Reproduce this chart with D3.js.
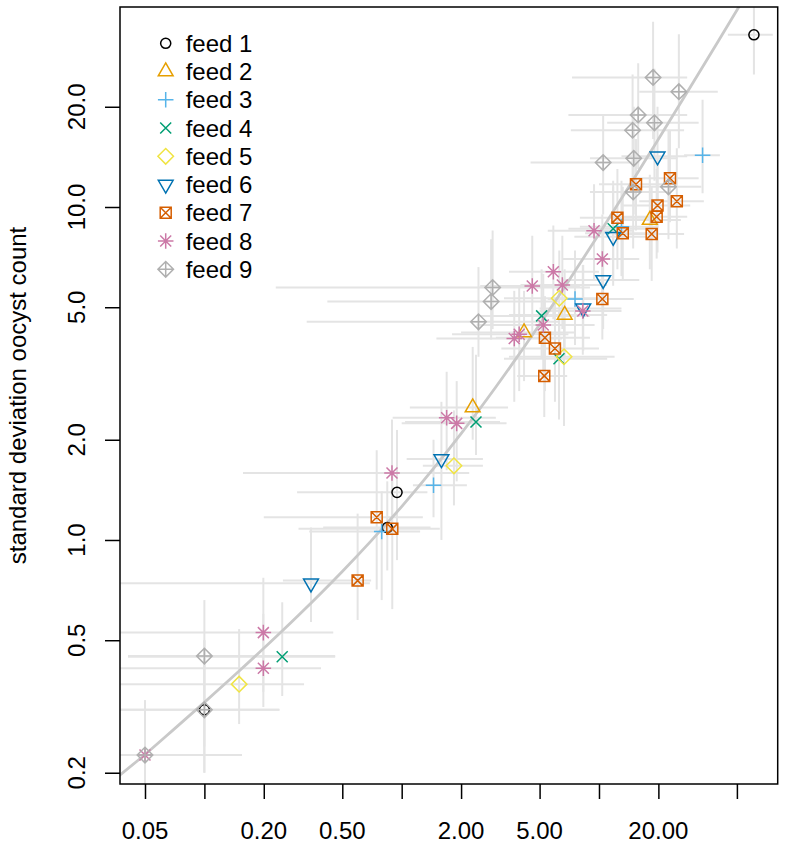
<!DOCTYPE html>
<html><head><meta charset="utf-8">
<script src="https://cdn.jsdelivr.net/npm/d3@7"></script>
<style>
body{margin:0;background:#fff}
svg{display:block}
text{font-family:"Liberation Sans",Arial,Helvetica,sans-serif;fill:#000}
</style>
</head><body>
<svg id="chart" width="785" height="845"></svg>
<script>
// ---------- data ----------
const feedNames = ["feed 1","feed 2","feed 3","feed 4","feed 5","feed 6","feed 7","feed 8","feed 9"];
const feedColors = ["#000000","#E69F00","#56B4E9","#009E73","#F0E442","#0072B2","#D55E00","#CC79A7","#B0B0B0"];
const feedPch = [1,2,3,4,5,6,7,8,9];

const pointFeed = [
 1,1,1,1,
 2,2,2,2,
 3,3,3,3,3,
 4,4,4,4,4,
 5,5,5,5,
 6,6,6,6,6,6,
 7,7,7,7,7,7,7,7,7,7,7,7,7,7,7,
 8,8,8,8,8,8,8,8,8,8,8,8,8,8,8,
 9,9,9,9,9,9,9,9,9,9,9,9,9,9,9];
// mean oocyst count
const meanCount = [
 61.0,0.947,0.845,0.10,
 2.29,4.17,6.70,18.1,
 33.5,1.45,0.792,7.56,13.0,
 0.248,2.38,5.12,6.27,11.8,
 0.150,1.84,6.29,6.65,
 0.347,1.59,8.32,10.5,11.8,19.8,
 0.598,0.747,0.896,5.32,5.98,5.28,10.4,12.4,13.2,15.4,18.5,19.6,19.8,22.9,24.8,
 0.05,0.199,0.199,0.893,1.69,1.90,3.72,3.94,5.22,4.59,5.87,6.52,8.28,10.4,9.44,
 0.05,0.10,0.10,2.45,2.84,2.89,10.5,15.0,14.8,15.8,19.1,18.8,25.4,14.9,22.5];
// standard deviation oocyst count
const sdCount = [
 32.9,1.39,1.09,0.309,
 2.50,4.20,4.74,9.14,
 14.3,1.46,1.06,5.29,8.73,
 0.446,2.26,4.71,3.50,8.6,
 0.369,1.67,5.32,3.55,
 0.741,1.75,4.96,6.04,8.14,14.2,
 0.755,1.17,1.08,4.05,3.76,3.11,5.29,9.29,8.34,11.7,8.30,9.35,10.1,12.2,10.4,
 0.226,0.527,0.412,1.59,2.33,2.24,4.03,4.15,4.42,5.79,6.39,5.83,4.87,6.98,8.49,
 0.226,0.448,0.309,4.52,5.20,5.73,13.6,14.0,17.0,18.9,17.9,24.5,22.2,11.1,11.5];
// interval on the mean
const meanLow = [
 45,0.295,0.40,0.037,
 1.10,2.0,3.5,12,
 27,1.14,0.34,5.5,8,
 0.041,1.04,2.5,3.3,7,
 0.037,1.28,3.3,3.5,
 0.037,1.06,5,6.5,7.5,13,
 0.25,0.20,0.30,3.0,3.2,3.85,7,8,8.5,10,12,13,13,15,16,
 0.03,0.037,0.037,0.157,0.9,1.0,1.5,1.8,2.4,2.5,3.5,4.0,5,6.5,5.5,
 0.03,0.041,0.037,0.33,0.42,0.23,4.5,9,7.2,7,11,7.3,16,9,14];
const meanHigh = [
 76,1.35,1.40,0.24,
 3.46,7.5,11,26,
 41,2.14,1.24,10.5,20,
 0.46,3.15,9,11,19,
 0.32,2.58,11,12,
 0.69,2.58,13,16,19,28,
 0.70,1.28,1.56,9,10,6.9,15,19,20,23,27,28,29,32,34,
 0.155,0.45,0.39,2.2,3.0,3.4,6.5,7,9.5,8,10,11,13,16,15,
 0.155,0.46,0.24,6.3,6.3,9.0,16,25,27,28,32,28,40,23,33];
// interval on the standard deviation
const sdLow = [
 25,0.87,0.81,0.20,
 2.0,3.0,3.5,6.5,
 11,1.17,0.66,3.85,6.2,
 0.34,1.8,3.5,2.3,6,
 0.28,1.27,3.7,2.2,
 0.567,1.0,3.7,4.3,5.8,10,
 0.575,0.71,0.62,2.8,2.6,2.34,4.0,6.5,6,8.5,6,7,7.3,9,7.5,
 0.15,0.35,0.315,1.1,1.62,1.5,2.6,2.8,3.2,4.1,4.6,4.3,3.6,5.1,6.0,
 0.15,0.24,0.20,3.55,4.0,4.3,9.5,9.5,12,13,12,16,15,7.5,8];
const sdHigh = [
 45,2.14,1.50,0.50,
 3.8,5.6,6.5,12.5,
 21,2.0,1.4,7.4,12,
 0.65,3.6,6.5,4.9,12,
 0.54,2.45,7.4,4.7,
 1.09,2.6,6.7,8.5,11.5,20,
 1.2,1.86,1.62,5.4,5.3,4.27,7.4,13,11.5,16,11.5,13,14,17,15,
 0.33,0.77,0.6,2.3,3.2,3.0,5.6,5.8,6.3,8.2,8.8,8.2,6.7,9.5,11.7,
 0.33,0.66,0.50,6.6,8.0,8.5,19,20,25,27,26,36,33,16,17];

// fitted mean-sd curve
const curveMean = [0.037,0.05,0.07,0.1,0.15,0.2,0.3,0.5,0.7,1,1.5,2,3,5,7,10,15,20,30,40,52];
const curveSd   = [0.196,0.2269,0.270,0.3254,0.404,0.4728,0.5941,0.8044,0.9941,1.26,1.68,2.086,2.88,4.439,5.985,8.296,12.14,15.98,23.65,31.32,40.53];

const xTicks = [0.05,0.1,0.2,0.5,1,2,5,10,20,50];
const xTickLabels = ["0.05","0.10","0.20","0.50","1.00","2.00","5.00","10.00","20.00","50.00"];
const yTicks = [0.2,0.5,1,2,5,10,20];
const yTickLabels = ["0.2","0.5","1.0","2.0","5.0","10.0","20.0"];
const yTitle = "standard deviation oocyst count";

// ---------- layout ----------
const L = 120, R = 777.7, T = 7, B = 784;
const svg = d3.select("#chart");
const x = d3.scaleLog().domain([0.03735, 80.5]).range([L, R]);
const y = d3.scaleLog().domain([0.185, 39.87]).range([B, T]);

svg.append("defs").append("clipPath").attr("id","plotclip")
  .append("rect").attr("x",L).attr("y",T).attr("width",R-L).attr("height",B-T);

const pts = meanCount.map((m,i)=>({m, s:sdCount[i], f:pointFeed[i]-1,
  mlo:meanLow[i], mhi:meanHigh[i], slo:sdLow[i], shi:sdHigh[i]}));

const plot = svg.append("g").attr("clip-path","url(#plotclip)");
const eb = plot.append("g").attr("stroke","#e4e4e4").attr("stroke-width",2).attr("fill","none");
eb.selectAll("line.h").data(pts).join("line").attr("class","h")
  .attr("x1",d=>x(d.mlo)).attr("x2",d=>x(d.mhi)).attr("y1",d=>y(d.s)).attr("y2",d=>y(d.s));
eb.selectAll("line.v").data(pts).join("line").attr("class","v")
  .attr("x1",d=>x(d.m)).attr("x2",d=>x(d.m)).attr("y1",d=>y(d.slo)).attr("y2",d=>y(d.shi));

const curve = curveMean.map((m,i)=>[m,curveSd[i]]);
plot.append("path").datum(curve)
  .attr("d", d3.line().x(d=>x(d[0])).y(d=>y(d[1])).curve(d3.curveMonotoneX))
  .attr("fill","none").attr("stroke","#c9c9c9").attr("stroke-width",2.8);

const RAD = 5.5;
function pchPath(p, r){
  const s = Math.SQRT2*r;
  const tri = (dir)=>`M0,${-dir*1.5551*r}L${1.3468*r},${dir*0.7776*r}L${-1.3468*r},${dir*0.7776*r}Z`;
  const X = `M${-r},${-r}L${r},${r}M${-r},${r}L${r},${-r}`;
  const P = `M${-s},0H${s}M0,${-s}V${s}`;
  const D = `M0,${-s}L${s},0L0,${s}L${-s},0Z`;
  switch(p){
    case 1: { const c=r*0.92; return `M${-c},0A${c},${c} 0 1,0 ${c},0A${c},${c} 0 1,0 ${-c},0Z`; }
    case 2: return tri(1);
    case 3: return P;
    case 4: return X;
    case 5: return D;
    case 6: return tri(-1);
    case 7: return `M${-r},${-r}H${r}V${r}H${-r}Z` + X;
    case 8: return X + P;
    case 9: return D + P;
  }
}
plot.append("g").selectAll("path").data(pts).join("path")
  .attr("transform",d=>`translate(${x(d.m)},${y(d.s)})`)
  .attr("d",d=>pchPath(feedPch[d.f],RAD))
  .attr("fill","none").attr("stroke",d=>feedColors[d.f]).attr("stroke-width",1.5);

// frame
svg.append("rect").attr("x",L).attr("y",T).attr("width",R-L).attr("height",B-T)
  .attr("fill","none").attr("stroke","#000").attr("stroke-width",1.5);

// x axis
const xa = svg.append("g").attr("transform",`translate(0,${B})`)
  .call(d3.axisBottom(x).tickValues(xTicks).tickSize(15).tickFormat(""));
xa.select(".domain").remove();
xa.selectAll(".tick line").attr("stroke","#000").attr("stroke-width",1.5);
// labels, skipping ones that would overlap (gap ~ one char)
let lastRight = -1e9;
xTicks.forEach((v,i)=>{
  const t = svg.append("text").attr("x",x(v)).attr("y",838.5)
    .attr("text-anchor","middle").attr("font-size",24).text(xTickLabels[i]);
  const w = t.node().getComputedTextLength();
  const left = x(v)-w/2;
  if (left < lastRight + 20) t.remove(); else lastRight = x(v)+w/2;
});

// y axis
const ya = svg.append("g").attr("transform",`translate(${L},0)`)
  .call(d3.axisLeft(y).tickValues(yTicks).tickSize(15).tickFormat(""));
ya.select(".domain").remove();
ya.selectAll(".tick line").attr("stroke","#000").attr("stroke-width",1.5);
yTicks.forEach((v,i)=>{
  svg.append("text").attr("transform",`translate(85,${y(v)}) rotate(-90)`)
    .attr("text-anchor","middle").attr("font-size",24).text(yTickLabels[i]);
});
svg.append("text").attr("transform",`translate(26,${(T+B)/2}) rotate(-90)`)
  .attr("text-anchor","middle").attr("font-size",24).text(yTitle);

// legend
const lg = svg.append("g");
feedNames.forEach((n,i)=>{
  const cy = 43.3 + i*28.25;
  lg.append("path").attr("transform",`translate(165.7,${cy})`)
    .attr("d",pchPath(feedPch[i],RAD)).attr("fill","none")
    .attr("stroke",feedColors[i]).attr("stroke-width",1.5);
  lg.append("text").attr("x",185.7).attr("y",cy+8.6).attr("font-size",24).text(n);
});
</script>
</body></html>
